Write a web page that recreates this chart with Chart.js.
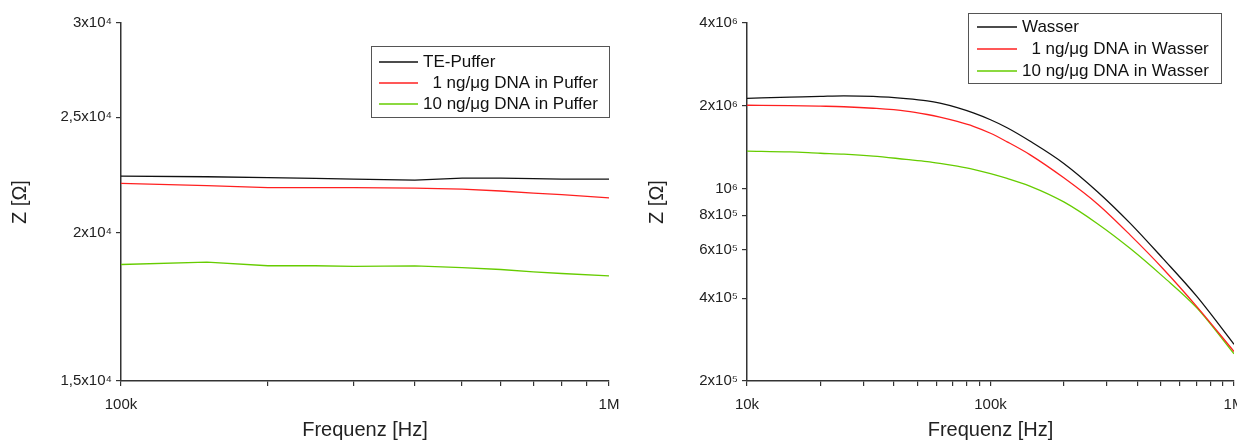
<!DOCTYPE html>
<html>
<head>
<meta charset="utf-8">
<script src="https://cdn.jsdelivr.net/npm/chart.js@4.4.1/dist/chart.umd.min.js"></script>
<style>
html, body { margin: 0; padding: 0; background: #fff; overflow: hidden; width: 1237px; height: 442px; }
#left { position: absolute; left: 0; top: 0; }
#right { position: absolute; left: 640px; top: 0; }
</style>
</head>
<body>
<canvas id="left" width="640" height="442"></canvas>
<canvas id="right" width="640" height="442"></canvas>
<script>
// Impedanz in TE-Puffer (100k - 1M)
var freqPuffer = [100e3, 150e3, 200e3, 250e3, 300e3, 400e3, 500e3, 600e3, 700e3, 800e3, 1000e3];
var tePuffer = [22300, 22275, 22240, 22210, 22170, 22130, 22215, 22220, 22195, 22170, 22170];
var dna1Puffer = [21990, 21900, 21810, 21810, 21810, 21795, 21745, 21670, 21585, 21515, 21380];
var dna10Puffer = [18795, 18880, 18750, 18750, 18730, 18745, 18680, 18615, 18530, 18470, 18385];

// Impedanz in Wasser (10k - 1M)
var freqWasser = [10e3, 15e3, 20e3, 25e3, 33e3, 45e3, 55e3, 62e3, 73e3, 85e3, 100e3, 117e3, 145e3, 200e3, 275e3, 375e3, 510e3, 705e3, 1000e3];
var wasser = [2.13e6, 2.15e6, 2.165e6, 2.175e6, 2.165e6, 2.125e6, 2.085e6, 2.045e6, 1.97e6, 1.885e6, 1.78e6, 1.665e6, 1.49e6, 1.235e6, 0.975e6, 0.748e6, 0.558e6, 0.405e6, 0.272e6];
var dna1Wasser = [2.01e6, 2.005e6, 1.995e6, 1.985e6, 1.96e6, 1.915e6, 1.86e6, 1.82e6, 1.755e6, 1.685e6, 1.59e6, 1.48e6, 1.33e6, 1.095e6, 0.88e6, 0.678e6, 0.513e6, 0.372e6, 0.256e6];
var dna10Wasser = [1.37e6, 1.36e6, 1.345e6, 1.335e6, 1.314e6, 1.278e6, 1.255e6, 1.236e6, 1.207e6, 1.176e6, 1.135e6, 1.09e6, 1.022e6, 0.895e6, 0.746e6, 0.606e6, 0.48e6, 0.368e6, 0.251e6];

// Achsen-Ticks
var xTicksPuffer = [1e5, 2e5, 3e5, 4e5, 5e5, 6e5, 7e5, 8e5, 9e5, 1e6];
var xLabelsPuffer = ['100k', '', '', '', '', '', '', '', '', '1M'];
var yTicksPuffer = [15000, 20000, 25000, 30000];
var yLabelsPuffer = ['1,5x10\u2074', '2x10\u2074', '2,5x10\u2074', '3x10\u2074'];

var xTicksWasser = [1e4, 2e4, 3e4, 4e4, 5e4, 6e4, 7e4, 8e4, 9e4, 1e5, 2e5, 3e5, 4e5, 5e5, 6e5, 7e5, 8e5, 9e5, 1e6];
var xLabelsWasser = ['10k', '', '', '', '', '', '', '', '', '100k', '', '', '', '', '', '', '', '', '1M'];
var yTicksWasser = [2e5, 4e5, 6e5, 8e5, 1e6, 2e6, 4e6];
var yLabelsWasser = ['2x10\u2075', '4x10\u2075', '6x10\u2075', '8x10\u2075', '10\u2076', '2x10\u2076', '4x10\u2076'];

var FONT = '"Liberation Sans", Arial, sans-serif';
var BLACK = '#111111';
var RED = '#ff2020';
var GREEN = '#66cc00';

function points(xs, ys) {
  return xs.map(function (x, i) { return { x: x, y: ys[i] }; });
}

function series(label, xs, ys, color) {
  return {
    label: label,
    data: points(xs, ys),
    borderColor: color,
    borderWidth: 1.3,
    pointRadius: 0,
    fill: false
  };
}

function logAxis(tickValues, tickLabels, size, title, titlePad, labelPad) {
  return {
    type: 'logarithmic',
    min: tickValues[0],
    max: tickValues[tickValues.length - 1],
    afterBuildTicks: function (axis) {
      axis.ticks = tickValues.map(function (v) { return { value: v }; });
    },
    afterFit: function (axis) {
      if (axis.isHorizontal()) axis.height = size;
      else axis.width = size;
    },
    ticks: {
      autoSkip: false,
      maxRotation: 0,
      padding: labelPad,
      color: '#222',
      font: { family: FONT, size: 15 },
      callback: function (v) {
        var i = tickValues.indexOf(v);
        return i >= 0 ? tickLabels[i] : '';
      }
    },
    grid: { drawOnChartArea: false, tickLength: 5, tickColor: '#333', lineWidth: 1.2 },
    border: { color: '#333', width: 1.5 },
    title: {
      display: true,
      text: title,
      color: '#222',
      font: { family: FONT, size: 20, lineHeight: 1.2 },
      padding: titlePad
    }
  };
}

// eigene Legende mit Rahmen innerhalb der Grafik
var legendBox = {
  id: 'legendBox',
  afterDraw: function (chart, args, o) {
    var ctx = chart.ctx;
    ctx.save();
    ctx.strokeStyle = '#555';
    ctx.lineWidth = 1;
    ctx.strokeRect(o.x + 0.5, o.y + 0.5, o.w, o.h);
    ctx.font = '17px ' + FONT;
    ctx.textBaseline = 'middle';
    ctx.textAlign = 'left';
    chart.data.datasets.forEach(function (ds, i) {
      var y = o.y + o.first + i * o.step;
      ctx.strokeStyle = ds.borderColor;
      ctx.lineWidth = 1.3;
      ctx.beginPath();
      ctx.moveTo(o.x + o.line0, y);
      ctx.lineTo(o.x + o.line1, y);
      ctx.stroke();
      ctx.fillStyle = '#111';
      ctx.fillText(ds.label, o.x + o.text, y);
    });
    ctx.restore();
  }
};

new Chart(document.getElementById('left'), {
  type: 'line',
  data: {
    datasets: [
      series('TE-Puffer', freqPuffer, tePuffer, BLACK),
      series('  1 ng/\u03bcg DNA in Puffer', freqPuffer, dna1Puffer, RED),
      series('10 ng/\u03bcg DNA in Puffer', freqPuffer, dna10Puffer, GREEN)
    ]
  },
  options: {
    responsive: false,
    animation: false,
    layout: { padding: { left: 0, right: 31, top: 23, bottom: 0 } },
    scales: {
      x: logAxis(xTicksPuffer, xLabelsPuffer, 61, 'Frequenz [Hz]', { top: 0, bottom: 0 }, 10),
      y: logAxis(yTicksPuffer, yLabelsPuffer, 121, 'Z [\u03a9]', { top: 8, bottom: 0 }, 4)
    },
    plugins: {
      legend: { display: false },
      tooltip: { enabled: false },
      legendBox: { x: 371, y: 46, w: 238, h: 71, first: 16, step: 21, line0: 8, line1: 47, text: 52 }
    }
  },
  plugins: [legendBox]
});

new Chart(document.getElementById('right'), {
  type: 'line',
  data: {
    datasets: [
      series('Wasser', freqWasser, wasser, BLACK),
      series('  1 ng/\u03bcg DNA in Wasser', freqWasser, dna1Wasser, RED),
      series('10 ng/\u03bcg DNA in Wasser', freqWasser, dna10Wasser, GREEN)
    ]
  },
  options: {
    responsive: false,
    animation: false,
    elements: { line: { cubicInterpolationMode: 'monotone' } },
    layout: { padding: { left: 0, right: 46, top: 23, bottom: 0 } },
    scales: {
      x: logAxis(xTicksWasser, xLabelsWasser, 61, 'Frequenz [Hz]', { top: 0, bottom: 0 }, 10),
      y: logAxis(yTicksWasser, yLabelsWasser, 107, 'Z [\u03a9]', { top: 5, bottom: 0 }, 4)
    },
    plugins: {
      legend: { display: false },
      tooltip: { enabled: false },
      legendBox: { x: 328, y: 13, w: 253, h: 70, first: 14, step: 22, line0: 9, line1: 49, text: 54 }
    }
  },
  plugins: [legendBox]
});
</script>
</body>
</html>
